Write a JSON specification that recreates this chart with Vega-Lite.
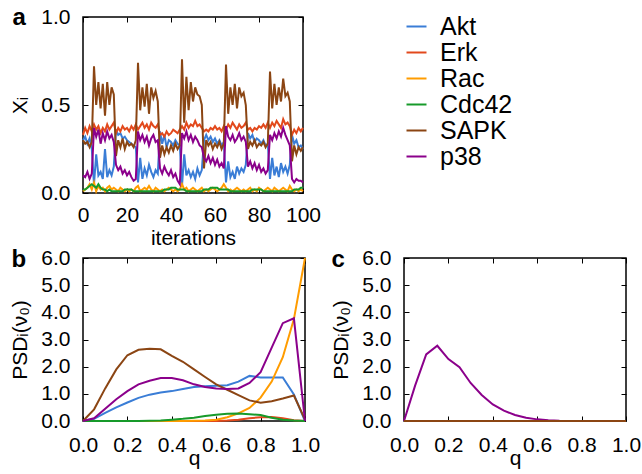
{
  "$schema": "https://vega.github.io/schema/vega-lite/v6.json",
  "padding": {"left": 9, "top": 4, "right": 2, "bottom": 2},
  "background": "white",
  "config": {
    "font": "Liberation Sans",
    "view": {"stroke": "black", "strokeWidth": 1.5},
    "axis": {
      "domain": false, "grid": false,
      "labelFont": "Liberation Sans", "labelFontSize": 21, "labelColor": "black",
      "titleFont": "Liberation Sans", "titleFontSize": 21, "titleFontWeight": "normal", "titleColor": "black",
      "tickColor": "black", "tickSize": -5, "tickWidth": 1,
      "labelOverlap": false, "labelFlush": false
    },
    "line": {"strokeWidth": 2}
  },
  "datasets": {
    "ts": [
      {"t":0,"Akt":0.30,"Erk":0.33,"Rac":0.01,"Cdc42":0.02,"SAPK":0.30,"p38":0.10},
      {"t":1,"Akt":0.32,"Erk":0.37,"Rac":0.02,"Cdc42":0.02,"SAPK":0.28,"p38":0.09},
      {"t":2,"Akt":0.28,"Erk":0.34,"Rac":0.03,"Cdc42":0.03,"SAPK":0.29,"p38":0.12},
      {"t":3,"Akt":0.31,"Erk":0.38,"Rac":0.05,"Cdc42":0.04,"SAPK":0.26,"p38":0.08},
      {"t":4,"Akt":0.25,"Erk":0.35,"Rac":0.02,"Cdc42":0.05,"SAPK":0.29,"p38":0.11},
      {"t":5,"Akt":0.05,"Erk":0.39,"Rac":0.06,"Cdc42":0.04,"SAPK":0.72,"p38":0.37},
      {"t":6,"Akt":0.22,"Erk":0.36,"Rac":0.01,"Cdc42":0.03,"SAPK":0.50,"p38":0.32},
      {"t":7,"Akt":0.10,"Erk":0.38,"Rac":0.04,"Cdc42":0.05,"SAPK":0.63,"p38":0.36},
      {"t":8,"Akt":0.12,"Erk":0.34,"Rac":0.02,"Cdc42":0.03,"SAPK":0.48,"p38":0.28},
      {"t":9,"Akt":0.08,"Erk":0.37,"Rac":0.03,"Cdc42":0.02,"SAPK":0.62,"p38":0.34},
      {"t":10,"Akt":0.25,"Erk":0.35,"Rac":0.01,"Cdc42":0.02,"SAPK":0.44,"p38":0.30},
      {"t":11,"Akt":0.09,"Erk":0.39,"Rac":0.03,"Cdc42":0.01,"SAPK":0.63,"p38":0.35},
      {"t":12,"Akt":0.13,"Erk":0.36,"Rac":0.04,"Cdc42":0.02,"SAPK":0.50,"p38":0.31},
      {"t":13,"Akt":0.10,"Erk":0.38,"Rac":0.02,"Cdc42":0.01,"SAPK":0.60,"p38":0.33},
      {"t":14,"Akt":0.15,"Erk":0.40,"Rac":0.03,"Cdc42":0.01,"SAPK":0.56,"p38":0.29},
      {"t":15,"Akt":0.36,"Erk":0.34,"Rac":0.02,"Cdc42":0.01,"SAPK":0.21,"p38":0.16},
      {"t":16,"Akt":0.33,"Erk":0.37,"Rac":0.01,"Cdc42":0.01,"SAPK":0.30,"p38":0.13},
      {"t":17,"Akt":0.34,"Erk":0.35,"Rac":0.03,"Cdc42":0.01,"SAPK":0.26,"p38":0.15},
      {"t":18,"Akt":0.31,"Erk":0.38,"Rac":0.02,"Cdc42":0.01,"SAPK":0.31,"p38":0.11},
      {"t":19,"Akt":0.32,"Erk":0.36,"Rac":0.01,"Cdc42":0.02,"SAPK":0.25,"p38":0.13},
      {"t":20,"Akt":0.30,"Erk":0.37,"Rac":0.02,"Cdc42":0.02,"SAPK":0.29,"p38":0.10},
      {"t":21,"Akt":0.29,"Erk":0.35,"Rac":0.01,"Cdc42":0.02,"SAPK":0.27,"p38":0.12},
      {"t":22,"Akt":0.28,"Erk":0.38,"Rac":0.02,"Cdc42":0.02,"SAPK":0.28,"p38":0.09},
      {"t":23,"Akt":0.27,"Erk":0.36,"Rac":0.01,"Cdc42":0.01,"SAPK":0.26,"p38":0.07},
      {"t":24,"Akt":0.26,"Erk":0.39,"Rac":0.03,"Cdc42":0.01,"SAPK":0.30,"p38":0.08},
      {"t":25,"Akt":0.06,"Erk":0.36,"Rac":0.04,"Cdc42":0.01,"SAPK":0.74,"p38":0.35},
      {"t":26,"Akt":0.20,"Erk":0.38,"Rac":0.01,"Cdc42":0.01,"SAPK":0.47,"p38":0.30},
      {"t":27,"Akt":0.08,"Erk":0.40,"Rac":0.02,"Cdc42":0.01,"SAPK":0.60,"p38":0.33},
      {"t":28,"Akt":0.14,"Erk":0.37,"Rac":0.03,"Cdc42":0.01,"SAPK":0.49,"p38":0.29},
      {"t":29,"Akt":0.10,"Erk":0.39,"Rac":0.02,"Cdc42":0.01,"SAPK":0.62,"p38":0.32},
      {"t":30,"Akt":0.16,"Erk":0.36,"Rac":0.04,"Cdc42":0.01,"SAPK":0.45,"p38":0.27},
      {"t":31,"Akt":0.12,"Erk":0.40,"Rac":0.02,"Cdc42":0.01,"SAPK":0.60,"p38":0.31},
      {"t":32,"Akt":0.09,"Erk":0.38,"Rac":0.01,"Cdc42":0.01,"SAPK":0.54,"p38":0.33},
      {"t":33,"Akt":0.13,"Erk":0.37,"Rac":0.03,"Cdc42":0.01,"SAPK":0.58,"p38":0.29},
      {"t":34,"Akt":0.11,"Erk":0.39,"Rac":0.02,"Cdc42":0.01,"SAPK":0.52,"p38":0.30},
      {"t":35,"Akt":0.35,"Erk":0.33,"Rac":0.01,"Cdc42":0.01,"SAPK":0.20,"p38":0.14},
      {"t":36,"Akt":0.28,"Erk":0.34,"Rac":0.02,"Cdc42":0.01,"SAPK":0.27,"p38":0.11},
      {"t":37,"Akt":0.33,"Erk":0.32,"Rac":0.01,"Cdc42":0.02,"SAPK":0.22,"p38":0.15},
      {"t":38,"Akt":0.26,"Erk":0.35,"Rac":0.02,"Cdc42":0.02,"SAPK":0.26,"p38":0.12},
      {"t":39,"Akt":0.30,"Erk":0.33,"Rac":0.03,"Cdc42":0.02,"SAPK":0.23,"p38":0.10},
      {"t":40,"Akt":0.29,"Erk":0.34,"Rac":0.02,"Cdc42":0.03,"SAPK":0.27,"p38":0.13},
      {"t":41,"Akt":0.27,"Erk":0.36,"Rac":0.01,"Cdc42":0.03,"SAPK":0.24,"p38":0.09},
      {"t":42,"Akt":0.30,"Erk":0.35,"Rac":0.02,"Cdc42":0.03,"SAPK":0.28,"p38":0.11},
      {"t":43,"Akt":0.28,"Erk":0.34,"Rac":0.01,"Cdc42":0.02,"SAPK":0.25,"p38":0.07},
      {"t":44,"Akt":0.27,"Erk":0.36,"Rac":0.02,"Cdc42":0.02,"SAPK":0.27,"p38":0.05},
      {"t":45,"Akt":0.04,"Erk":0.38,"Rac":0.05,"Cdc42":0.02,"SAPK":0.76,"p38":0.34},
      {"t":46,"Akt":0.22,"Erk":0.36,"Rac":0.02,"Cdc42":0.02,"SAPK":0.40,"p38":0.31},
      {"t":47,"Akt":0.10,"Erk":0.40,"Rac":0.03,"Cdc42":0.01,"SAPK":0.66,"p38":0.35},
      {"t":48,"Akt":0.13,"Erk":0.37,"Rac":0.01,"Cdc42":0.01,"SAPK":0.47,"p38":0.30},
      {"t":49,"Akt":0.09,"Erk":0.39,"Rac":0.02,"Cdc42":0.01,"SAPK":0.63,"p38":0.33},
      {"t":50,"Akt":0.12,"Erk":0.38,"Rac":0.03,"Cdc42":0.01,"SAPK":0.52,"p38":0.29},
      {"t":51,"Akt":0.08,"Erk":0.41,"Rac":0.02,"Cdc42":0.01,"SAPK":0.60,"p38":0.32},
      {"t":52,"Akt":0.14,"Erk":0.38,"Rac":0.01,"Cdc42":0.01,"SAPK":0.56,"p38":0.30},
      {"t":53,"Akt":0.10,"Erk":0.39,"Rac":0.02,"Cdc42":0.01,"SAPK":0.55,"p38":0.27},
      {"t":54,"Akt":0.13,"Erk":0.37,"Rac":0.03,"Cdc42":0.01,"SAPK":0.50,"p38":0.26},
      {"t":55,"Akt":0.30,"Erk":0.35,"Rac":0.01,"Cdc42":0.02,"SAPK":0.14,"p38":0.20},
      {"t":56,"Akt":0.33,"Erk":0.36,"Rac":0.02,"Cdc42":0.02,"SAPK":0.30,"p38":0.18},
      {"t":57,"Akt":0.30,"Erk":0.35,"Rac":0.01,"Cdc42":0.02,"SAPK":0.27,"p38":0.21},
      {"t":58,"Akt":0.32,"Erk":0.37,"Rac":0.02,"Cdc42":0.03,"SAPK":0.29,"p38":0.17},
      {"t":59,"Akt":0.29,"Erk":0.36,"Rac":0.03,"Cdc42":0.03,"SAPK":0.25,"p38":0.20},
      {"t":60,"Akt":0.31,"Erk":0.38,"Rac":0.02,"Cdc42":0.03,"SAPK":0.28,"p38":0.16},
      {"t":61,"Akt":0.28,"Erk":0.36,"Rac":0.01,"Cdc42":0.03,"SAPK":0.26,"p38":0.19},
      {"t":62,"Akt":0.30,"Erk":0.37,"Rac":0.02,"Cdc42":0.02,"SAPK":0.29,"p38":0.15},
      {"t":63,"Akt":0.27,"Erk":0.35,"Rac":0.03,"Cdc42":0.02,"SAPK":0.25,"p38":0.17},
      {"t":64,"Akt":0.29,"Erk":0.38,"Rac":0.05,"Cdc42":0.02,"SAPK":0.28,"p38":0.14},
      {"t":65,"Akt":0.06,"Erk":0.36,"Rac":0.03,"Cdc42":0.02,"SAPK":0.73,"p38":0.38},
      {"t":66,"Akt":0.18,"Erk":0.39,"Rac":0.01,"Cdc42":0.02,"SAPK":0.45,"p38":0.32},
      {"t":67,"Akt":0.09,"Erk":0.37,"Rac":0.02,"Cdc42":0.01,"SAPK":0.60,"p38":0.30},
      {"t":68,"Akt":0.12,"Erk":0.40,"Rac":0.01,"Cdc42":0.01,"SAPK":0.50,"p38":0.33},
      {"t":69,"Akt":0.08,"Erk":0.38,"Rac":0.02,"Cdc42":0.01,"SAPK":0.62,"p38":0.29},
      {"t":70,"Akt":0.15,"Erk":0.36,"Rac":0.03,"Cdc42":0.01,"SAPK":0.48,"p38":0.31},
      {"t":71,"Akt":0.11,"Erk":0.39,"Rac":0.02,"Cdc42":0.01,"SAPK":0.60,"p38":0.34},
      {"t":72,"Akt":0.14,"Erk":0.37,"Rac":0.01,"Cdc42":0.01,"SAPK":0.55,"p38":0.30},
      {"t":73,"Akt":0.12,"Erk":0.38,"Rac":0.02,"Cdc42":0.01,"SAPK":0.57,"p38":0.32},
      {"t":74,"Akt":0.16,"Erk":0.40,"Rac":0.01,"Cdc42":0.01,"SAPK":0.50,"p38":0.29},
      {"t":75,"Akt":0.34,"Erk":0.36,"Rac":0.02,"Cdc42":0.01,"SAPK":0.25,"p38":0.15},
      {"t":76,"Akt":0.31,"Erk":0.37,"Rac":0.03,"Cdc42":0.01,"SAPK":0.29,"p38":0.18},
      {"t":77,"Akt":0.33,"Erk":0.35,"Rac":0.01,"Cdc42":0.02,"SAPK":0.27,"p38":0.14},
      {"t":78,"Akt":0.29,"Erk":0.37,"Rac":0.02,"Cdc42":0.02,"SAPK":0.30,"p38":0.17},
      {"t":79,"Akt":0.31,"Erk":0.36,"Rac":0.01,"Cdc42":0.02,"SAPK":0.26,"p38":0.13},
      {"t":80,"Akt":0.30,"Erk":0.38,"Rac":0.03,"Cdc42":0.02,"SAPK":0.28,"p38":0.16},
      {"t":81,"Akt":0.28,"Erk":0.37,"Rac":0.02,"Cdc42":0.02,"SAPK":0.27,"p38":0.12},
      {"t":82,"Akt":0.30,"Erk":0.39,"Rac":0.01,"Cdc42":0.01,"SAPK":0.29,"p38":0.14},
      {"t":83,"Akt":0.27,"Erk":0.37,"Rac":0.02,"Cdc42":0.01,"SAPK":0.26,"p38":0.11},
      {"t":84,"Akt":0.28,"Erk":0.40,"Rac":0.03,"Cdc42":0.01,"SAPK":0.28,"p38":0.13},
      {"t":85,"Akt":0.08,"Erk":0.37,"Rac":0.02,"Cdc42":0.01,"SAPK":0.69,"p38":0.33},
      {"t":86,"Akt":0.20,"Erk":0.40,"Rac":0.01,"Cdc42":0.01,"SAPK":0.48,"p38":0.30},
      {"t":87,"Akt":0.10,"Erk":0.38,"Rac":0.03,"Cdc42":0.01,"SAPK":0.62,"p38":0.34},
      {"t":88,"Akt":0.15,"Erk":0.41,"Rac":0.02,"Cdc42":0.01,"SAPK":0.50,"p38":0.31},
      {"t":89,"Akt":0.09,"Erk":0.39,"Rac":0.01,"Cdc42":0.01,"SAPK":0.60,"p38":0.35},
      {"t":90,"Akt":0.17,"Erk":0.37,"Rac":0.02,"Cdc42":0.01,"SAPK":0.52,"p38":0.32},
      {"t":91,"Akt":0.12,"Erk":0.42,"Rac":0.03,"Cdc42":0.01,"SAPK":0.65,"p38":0.37},
      {"t":92,"Akt":0.15,"Erk":0.39,"Rac":0.02,"Cdc42":0.01,"SAPK":0.55,"p38":0.33},
      {"t":93,"Akt":0.11,"Erk":0.40,"Rac":0.01,"Cdc42":0.01,"SAPK":0.57,"p38":0.30},
      {"t":94,"Akt":0.16,"Erk":0.38,"Rac":0.04,"Cdc42":0.01,"SAPK":0.52,"p38":0.27},
      {"t":95,"Akt":0.33,"Erk":0.33,"Rac":0.02,"Cdc42":0.01,"SAPK":0.18,"p38":0.08},
      {"t":96,"Akt":0.28,"Erk":0.36,"Rac":0.01,"Cdc42":0.02,"SAPK":0.27,"p38":0.06},
      {"t":97,"Akt":0.30,"Erk":0.34,"Rac":0.02,"Cdc42":0.02,"SAPK":0.22,"p38":0.08},
      {"t":98,"Akt":0.26,"Erk":0.37,"Rac":0.01,"Cdc42":0.02,"SAPK":0.26,"p38":0.07},
      {"t":99,"Akt":0.27,"Erk":0.35,"Rac":0.02,"Cdc42":0.03,"SAPK":0.24,"p38":0.07},
      {"t":100,"Akt":0.25,"Erk":0.37,"Rac":0.01,"Cdc42":0.03,"SAPK":0.26,"p38":0.06}
    ],
    "psdb": [
      {"q":0.00,"Akt":0.00,"Erk":0.00,"Rac":0.00,"Cdc42":0.00,"SAPK":0.00,"p38":0.00},
      {"q":0.05,"Akt":0.08,"Erk":0.00,"Rac":0.00,"Cdc42":0.00,"SAPK":0.43,"p38":0.10},
      {"q":0.10,"Akt":0.30,"Erk":0.00,"Rac":0.00,"Cdc42":0.00,"SAPK":1.20,"p38":0.45},
      {"q":0.15,"Akt":0.50,"Erk":0.00,"Rac":0.00,"Cdc42":0.00,"SAPK":1.90,"p38":0.80},
      {"q":0.20,"Akt":0.68,"Erk":0.00,"Rac":0.00,"Cdc42":0.00,"SAPK":2.42,"p38":1.10},
      {"q":0.25,"Akt":0.85,"Erk":0.00,"Rac":0.00,"Cdc42":0.00,"SAPK":2.62,"p38":1.35},
      {"q":0.30,"Akt":0.97,"Erk":0.00,"Rac":0.00,"Cdc42":0.01,"SAPK":2.66,"p38":1.48},
      {"q":0.35,"Akt":1.05,"Erk":0.00,"Rac":0.00,"Cdc42":0.02,"SAPK":2.64,"p38":1.58},
      {"q":0.40,"Akt":1.10,"Erk":0.00,"Rac":0.00,"Cdc42":0.05,"SAPK":2.40,"p38":1.58},
      {"q":0.45,"Akt":1.18,"Erk":0.00,"Rac":0.00,"Cdc42":0.08,"SAPK":2.18,"p38":1.50},
      {"q":0.50,"Akt":1.25,"Erk":0.00,"Rac":0.01,"Cdc42":0.12,"SAPK":1.90,"p38":1.35},
      {"q":0.55,"Akt":1.28,"Erk":0.00,"Rac":0.02,"Cdc42":0.18,"SAPK":1.62,"p38":1.25},
      {"q":0.60,"Akt":1.30,"Erk":0.00,"Rac":0.05,"Cdc42":0.23,"SAPK":1.35,"p38":1.20},
      {"q":0.65,"Akt":1.32,"Erk":0.02,"Rac":0.14,"Cdc42":0.27,"SAPK":1.15,"p38":1.18},
      {"q":0.70,"Akt":1.45,"Erk":0.05,"Rac":0.28,"Cdc42":0.28,"SAPK":0.95,"p38":1.20},
      {"q":0.75,"Akt":1.66,"Erk":0.10,"Rac":0.48,"Cdc42":0.25,"SAPK":0.76,"p38":1.40},
      {"q":0.80,"Akt":1.60,"Erk":0.14,"Rac":0.86,"Cdc42":0.22,"SAPK":0.67,"p38":1.80},
      {"q":0.85,"Akt":1.60,"Erk":0.15,"Rac":1.45,"Cdc42":0.12,"SAPK":0.73,"p38":2.70},
      {"q":0.90,"Akt":1.60,"Erk":0.10,"Rac":2.35,"Cdc42":0.05,"SAPK":0.83,"p38":3.60},
      {"q":0.95,"Akt":0.98,"Erk":0.03,"Rac":3.75,"Cdc42":0.02,"SAPK":0.94,"p38":3.78},
      {"q":1.00,"Akt":0.00,"Erk":0.00,"Rac":6.00,"Cdc42":0.00,"SAPK":0.05,"p38":0.00}
    ],
    "psdc": [
      {"q":0.00,"Akt":0,"Erk":0,"Rac":0,"Cdc42":0,"SAPK":0,"p38":0.00},
      {"q":0.05,"Akt":0,"Erk":0,"Rac":0,"Cdc42":0,"SAPK":0,"p38":1.30},
      {"q":0.10,"Akt":0,"Erk":0,"Rac":0,"Cdc42":0,"SAPK":0,"p38":2.45},
      {"q":0.15,"Akt":0,"Erk":0,"Rac":0,"Cdc42":0,"SAPK":0,"p38":2.77},
      {"q":0.20,"Akt":0,"Erk":0,"Rac":0,"Cdc42":0,"SAPK":0,"p38":2.28},
      {"q":0.25,"Akt":0,"Erk":0,"Rac":0,"Cdc42":0,"SAPK":0,"p38":1.98},
      {"q":0.30,"Akt":0,"Erk":0,"Rac":0,"Cdc42":0,"SAPK":0,"p38":1.40},
      {"q":0.35,"Akt":0,"Erk":0,"Rac":0,"Cdc42":0,"SAPK":0,"p38":0.96},
      {"q":0.40,"Akt":0,"Erk":0,"Rac":0,"Cdc42":0,"SAPK":0,"p38":0.61},
      {"q":0.45,"Akt":0,"Erk":0,"Rac":0,"Cdc42":0,"SAPK":0,"p38":0.38},
      {"q":0.50,"Akt":0,"Erk":0,"Rac":0,"Cdc42":0,"SAPK":0,"p38":0.22},
      {"q":0.55,"Akt":0,"Erk":0,"Rac":0,"Cdc42":0,"SAPK":0,"p38":0.12},
      {"q":0.60,"Akt":0,"Erk":0,"Rac":0,"Cdc42":0,"SAPK":0,"p38":0.06},
      {"q":0.65,"Akt":0,"Erk":0,"Rac":0,"Cdc42":0,"SAPK":0,"p38":0.03},
      {"q":0.70,"Akt":0,"Erk":0,"Rac":0,"Cdc42":0,"SAPK":0,"p38":0.01},
      {"q":0.75,"Akt":0,"Erk":0,"Rac":0,"Cdc42":0,"SAPK":0,"p38":0.00},
      {"q":0.80,"Akt":0,"Erk":0,"Rac":0,"Cdc42":0,"SAPK":0,"p38":0.00},
      {"q":0.85,"Akt":0,"Erk":0,"Rac":0,"Cdc42":0,"SAPK":0,"p38":0.00},
      {"q":0.90,"Akt":0,"Erk":0,"Rac":0,"Cdc42":0,"SAPK":0,"p38":0.00},
      {"q":0.95,"Akt":0,"Erk":0,"Rac":0,"Cdc42":0,"SAPK":0,"p38":0.00},
      {"q":1.00,"Akt":0,"Erk":0,"Rac":0,"Cdc42":0,"SAPK":0,"p38":0.00}
    ]
  },
  "vconcat": [
    {
      "width": 220, "height": 176,
      "data": {"name": "ts"},
      "transform": [{"fold": ["Akt","Erk","Rac","Cdc42","SAPK","p38"], "as": ["species","value"]}],
      "layer": [
        {
          "mark": {"type": "line", "strokeWidth": 2},
          "encoding": {
            "x": {"field": "t", "type": "quantitative", "scale": {"domain": [0,100], "nice": false}, "axis": {"title": "iterations", "values": [0,20,40,60,80,100], "labelPadding": 16, "titlePadding": 2}},
            "y": {"field": "value", "type": "quantitative", "scale": {"domain": [0,1], "nice": false}, "axis": {"title": "Xᵢ", "values": [0,0.5,1], "format": ".1f", "labelPadding": 18, "titlePadding": 10}},
            "color": {"field": "species", "type": "nominal",
              "scale": {"domain": ["Akt","Erk","Rac","Cdc42","SAPK","p38"], "range": ["#3a7dd6","#e2491c","#ff9c00","#179a2a","#8b4513","#8b008b"]},
              "sort": ["Akt","Erk","Rac","Cdc42","SAPK","p38"],
              "legend": {"orient": "none", "legendX": 321, "legendY": -3, "title": null, "padding": 0,
                "symbolType": "stroke", "symbolStrokeWidth": 7, "symbolSize": 400,
                "labelFont": "Liberation Sans", "labelFontSize": 25, "labelColor": "black", "labelOffset": 11, "rowPadding": 0}
            }
          }
        },
        {
          "mark": {"type": "line", "strokeOpacity": 0},
          "encoding": {
            "x": {"field": "t", "type": "quantitative", "axis": {"orient": "top", "values": [0,20,40,60,80,100], "labels": false, "title": "a", "titleX": -71, "titleY": 7, "titleAlign": "left", "titleAngle": 0, "titleBaseline": "alphabetic", "titleFontSize": 24, "titleFontWeight": "bold"}},
            "y": {"field": "value", "type": "quantitative", "axis": {"orient": "right", "values": [0,0.5,1], "labels": false, "title": null}},
            "detail": {"field": "species"}
          }
        }
      ],
      "resolve": {"axis": {"x": "independent", "y": "independent"}}
    },
    {
      "hconcat": [
        {
          "width": 222, "height": 163,
          "data": {"name": "psdb"},
          "transform": [{"fold": ["Akt","Erk","Rac","Cdc42","SAPK","p38"], "as": ["species","value"]}],
          "layer": [
            {
              "mark": {"type": "line", "strokeWidth": 2},
              "encoding": {
                "x": {"field": "q", "type": "quantitative", "scale": {"domain": [0,1], "nice": false}, "axis": {"title": "q", "values": [0,0.2,0.4,0.6,0.8,1], "format": ".1f", "labelPadding": 18, "titlePadding": -8}},
                "y": {"field": "value", "type": "quantitative", "scale": {"domain": [0,6], "nice": false}, "axis": {"title": "PSDᵢ(ν₀)", "values": [0,1,2,3,4,5,6], "format": ".1f", "labelPadding": 18, "titlePadding": 10}},
                "color": {"field": "species", "type": "nominal", "legend": null,
                  "scale": {"domain": ["Akt","Erk","Rac","Cdc42","SAPK","p38"], "range": ["#3a7dd6","#e2491c","#ff9c00","#179a2a","#8b4513","#8b008b"]},
                  "sort": ["Akt","Erk","Rac","Cdc42","SAPK","p38"]}
              }
            },
            {
              "mark": {"type": "line", "strokeOpacity": 0},
              "encoding": {
                "x": {"field": "q", "type": "quantitative", "axis": {"orient": "top", "values": [0,0.2,0.4,0.6,0.8,1], "labels": false, "title": "b", "titleX": -72, "titleY": 8, "titleAlign": "left", "titleAngle": 0, "titleBaseline": "alphabetic", "titleFontSize": 24, "titleFontWeight": "bold"}},
                "y": {"field": "value", "type": "quantitative", "axis": {"orient": "right", "values": [0,1,2,3,4,5,6], "labels": false, "title": null}},
                "detail": {"field": "species"}
              }
            }
          ],
          "resolve": {"axis": {"x": "independent", "y": "independent"}}
        },
        {
          "width": 222, "height": 163,
          "data": {"name": "psdc"},
          "transform": [{"fold": ["p38","Akt","Erk","Rac","Cdc42","SAPK"], "as": ["species","value"]}],
          "layer": [
            {
              "mark": {"type": "line", "strokeWidth": 2},
              "encoding": {
                "x": {"field": "q", "type": "quantitative", "scale": {"domain": [0,1], "nice": false}, "axis": {"title": "q", "values": [0,0.2,0.4,0.6,0.8,1], "format": ".1f", "labelPadding": 18, "titlePadding": -8}},
                "y": {"field": "value", "type": "quantitative", "scale": {"domain": [0,6], "nice": false}, "axis": {"title": "PSDᵢ(ν₀)", "values": [0,1,2,3,4,5,6], "format": ".1f", "labelPadding": 18, "titlePadding": 10}},
                "color": {"field": "species", "type": "nominal", "legend": null,
                  "scale": {"domain": ["Akt","Erk","Rac","Cdc42","SAPK","p38"], "range": ["#3a7dd6","#e2491c","#ff9c00","#179a2a","#8b4513","#8b008b"]}}
              }
            },
            {
              "mark": {"type": "line", "strokeOpacity": 0},
              "encoding": {
                "x": {"field": "q", "type": "quantitative", "axis": {"orient": "top", "values": [0,0.2,0.4,0.6,0.8,1], "labels": false, "title": "c", "titleX": -73, "titleY": 8, "titleAlign": "left", "titleAngle": 0, "titleBaseline": "alphabetic", "titleFontSize": 24, "titleFontWeight": "bold"}},
                "y": {"field": "value", "type": "quantitative", "axis": {"orient": "right", "values": [0,1,2,3,4,5,6], "labels": false, "title": null}},
                "detail": {"field": "species"}
              }
            }
          ],
          "resolve": {"axis": {"x": "independent", "y": "independent"}}
        }
      ],
      "spacing": 9,
      "resolve": {"scale": {"color": "independent"}}
    }
  ],
  "spacing": -3,
  "resolve": {"scale": {"color": "independent"}}
}
